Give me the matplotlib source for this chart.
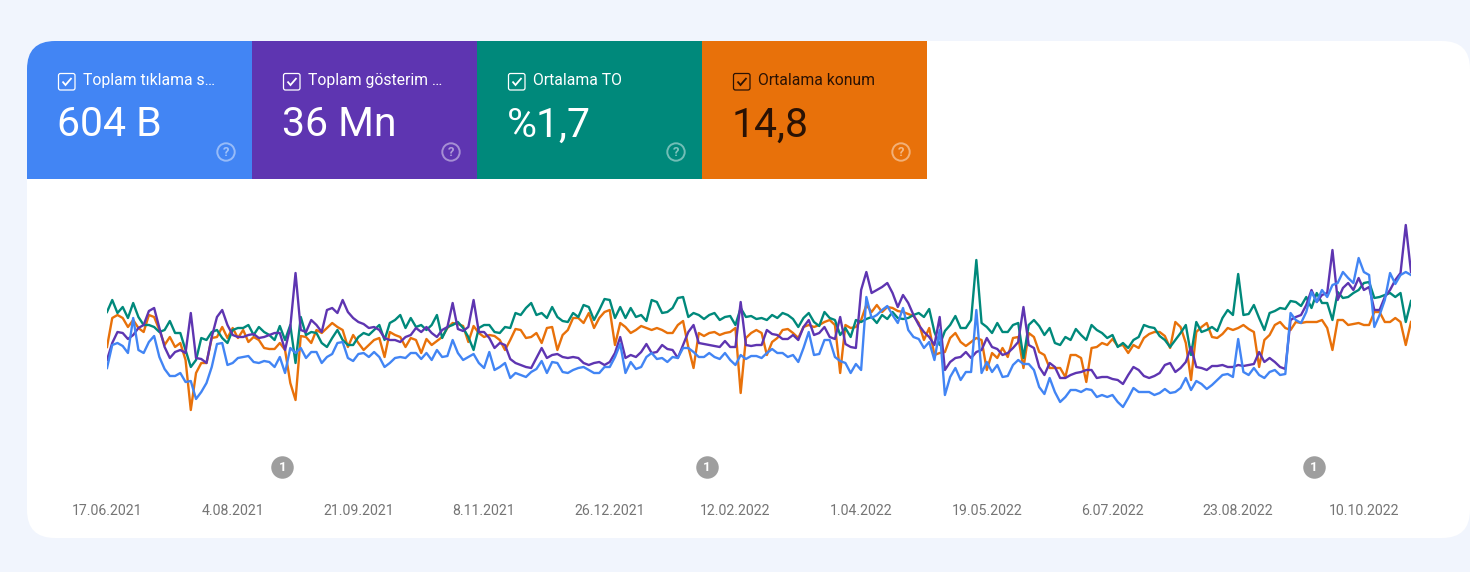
import matplotlib
matplotlib.use('Agg')
import matplotlib.pyplot as plt
import pandas as pd
from matplotlib.patches import Circle, FancyBboxPatch, Rectangle
from matplotlib.transforms import blended_transform_factory

plt.rcParams['font.family'] = ['Roboto', 'DejaVu Sans']

BG = '#f1f5fd'
BLUE = '#4285f4'
PURPLE = '#5e35b1'
GREEN = '#00897b'
ORANGE = '#e8710a'
DARK = '#2a1204'

# tile contents
tile_labels = ['Toplam tıklama s…', 'Toplam gösterim …', 'Ortalama TO', 'Ortalama konum']
tile_values = ['604 B', '36 Mn', '%1,7', '14,8']
tile_colors = [BLUE, PURPLE, GREEN, ORANGE]
tile_text = ['white', 'white', 'white', DARK]

tick_dates = ['2021-06-17', '2021-08-04', '2021-09-21', '2021-11-08', '2021-12-26', '2022-02-12',
              '2022-04-01', '2022-05-19', '2022-07-06', '2022-08-23', '2022-10-10']
tick_labels = ['17.06.2021', '4.08.2021', '21.09.2021', '8.11.2021', '26.12.2021', '12.02.2022',
               '1.04.2022', '19.05.2022', '6.07.2022', '23.08.2022', '10.10.2022']
note_dates = ['2021-08-23', '2022-02-01', '2022-09-21']

# relative heights, no y axis in the original; one reading every second day
clicks = [
    92, 115, 117, 114, 107, 142, 110, 107, 118, 124, 103, 91, 84, 84, 87, 78, 79, 61, 68, 77,
    93, 116, 117, 95, 97, 102, 103, 104, 98, 97, 99, 98, 93, 103, 87, 112, 107, 112, 102, 108,
    108, 97, 103, 106, 117, 118, 102, 99, 106, 107, 103, 108, 103, 93, 97, 102, 103, 102, 107, 107,
    101, 107, 100, 110, 103, 104, 120, 107, 100, 103, 106, 97, 92, 108, 90, 93, 97, 82, 87, 85,
    83, 88, 91, 99, 87, 98, 97, 88, 87, 90, 92, 93, 90, 87, 87, 93, 93, 103, 116, 87,
    98, 91, 93, 103, 107, 101, 102, 98, 103, 102, 112, 112, 108, 103, 103, 107, 103, 101, 107, 100,
    95, 105, 101, 104, 104, 102, 107, 111, 107, 107, 103, 105, 98, 112, 128, 105, 106, 120, 120, 103,
    99, 97, 87, 96, 90, 163, 142, 145, 150, 154, 145, 137, 152, 130, 123, 121, 112, 118, 100, 130,
    65, 83, 92, 80, 88, 88, 150, 87, 98, 88, 95, 83, 84, 95, 100, 96, 96, 90, 73, 66,
    82, 68, 58, 63, 70, 70, 68, 71, 70, 63, 65, 63, 65, 58, 53, 62, 72, 68, 68, 68,
    65, 67, 71, 67, 68, 72, 82, 70, 79, 76, 71, 75, 80, 85, 86, 83, 121, 88, 85, 92,
    85, 82, 88, 90, 85, 86, 147, 140, 137, 148, 168, 158, 170, 163, 175, 177, 188, 182, 177, 202,
    188, 185, 133, 145, 160, 187, 176, 185, 188, 185,
]
impressions = [
    100, 117, 128, 127, 121, 125, 132, 135, 149, 152, 132, 113, 102, 108, 110, 107, 147, 102, 101, 97,
    123, 143, 150, 135, 125, 123, 123, 125, 126, 122, 123, 125, 127, 127, 110, 133, 187, 130, 128, 140,
    135, 128, 150, 152, 147, 160, 148, 142, 138, 136, 132, 133, 130, 122, 120, 120, 118, 123, 125, 132,
    128, 133, 127, 123, 130, 133, 157, 131, 129, 133, 160, 128, 128, 122, 112, 117, 115, 101, 97, 95,
    93, 92, 102, 112, 102, 105, 106, 103, 102, 103, 102, 97, 95, 97, 98, 95, 98, 107, 123, 102,
    105, 103, 108, 116, 107, 108, 115, 111, 110, 102, 115, 128, 135, 117, 116, 115, 114, 113, 119, 113,
    113, 158, 115, 114, 115, 115, 130, 126, 125, 121, 121, 125, 120, 133, 140, 125, 127, 133, 123, 121,
    143, 116, 113, 112, 170, 188, 167, 170, 173, 177, 167, 153, 165, 157, 145, 135, 128, 123, 115, 143,
    90, 98, 102, 103, 108, 102, 108, 110, 122, 113, 111, 105, 107, 112, 118, 153, 115, 112, 93, 85,
    97, 93, 82, 82, 85, 87, 88, 90, 90, 82, 83, 83, 81, 80, 76, 85, 93, 90, 84, 82,
    84, 87, 95, 97, 88, 92, 98, 113, 93, 92, 90, 94, 94, 95, 93, 93, 95, 94, 95, 96,
    108, 98, 102, 98, 93, 91, 140, 143, 145, 155, 170, 158, 165, 167, 210, 160, 172, 177, 170, 182,
    170, 173, 150, 150, 163, 170, 180, 187, 235, 188,
]
ctr = [
    148, 160, 147, 153, 142, 157, 143, 135, 135, 133, 128, 130, 139, 127, 127, 110, 93, 100, 122, 120,
    128, 130, 122, 117, 130, 132, 132, 135, 125, 133, 128, 125, 120, 134, 120, 135, 97, 143, 125, 128,
    127, 117, 113, 122, 130, 120, 115, 115, 123, 127, 125, 130, 135, 120, 137, 140, 145, 132, 142, 133,
    135, 130, 135, 145, 122, 133, 135, 138, 132, 123, 110, 132, 135, 135, 128, 127, 133, 132, 147, 145,
    152, 157, 145, 147, 142, 153, 143, 139, 138, 147, 143, 155, 153, 140, 150, 161, 160, 142, 153, 142,
    152, 143, 145, 139, 160, 158, 147, 148, 152, 162, 163, 143, 147, 145, 141, 145, 147, 140, 143, 144,
    135, 152, 143, 144, 141, 142, 140, 145, 142, 147, 145, 141, 133, 142, 147, 138, 134, 148, 142, 140,
    125, 132, 123, 140, 138, 141, 143, 137, 145, 141, 148, 142, 141, 142, 145, 147, 143, 151, 128, 115,
    129, 135, 144, 132, 132, 140, 200, 137, 133, 127, 137, 128, 128, 135, 137, 102, 135, 140, 134, 125,
    132, 117, 115, 123, 120, 131, 125, 120, 135, 130, 127, 122, 125, 113, 117, 112, 120, 123, 135, 133,
    132, 124, 120, 113, 120, 127, 135, 105, 138, 128, 130, 133, 129, 142, 150, 145, 186, 145, 146, 155,
    142, 130, 147, 149, 152, 151, 159, 158, 154, 163, 152, 167, 157, 157, 140, 168, 162, 163, 167, 170,
    177, 178, 162, 163, 165, 167, 163, 167, 138, 159,
]
position = [
    113, 142, 145, 142, 133, 140, 132, 128, 145, 143, 130, 115, 123, 113, 117, 100, 50, 87, 97, 97,
    122, 123, 133, 122, 132, 122, 130, 118, 123, 120, 112, 111, 111, 117, 110, 77, 60, 124, 123, 117,
    130, 127, 132, 137, 133, 130, 113, 125, 117, 110, 115, 120, 122, 103, 128, 125, 123, 113, 122, 120,
    107, 121, 115, 119, 123, 132, 137, 136, 134, 118, 134, 127, 123, 125, 124, 120, 110, 120, 131, 130,
    122, 123, 127, 117, 132, 133, 110, 125, 130, 142, 142, 137, 147, 132, 142, 148, 150, 115, 137, 133,
    127, 130, 134, 132, 130, 132, 130, 127, 127, 135, 139, 113, 92, 127, 124, 127, 128, 125, 127, 128,
    132, 67, 122, 127, 130, 127, 105, 118, 122, 130, 131, 127, 122, 133, 135, 133, 135, 138, 140, 135,
    87, 135, 132, 133, 140, 155, 148, 155, 148, 153, 152, 149, 148, 146, 144, 137, 120, 132, 105, 107,
    108, 122, 127, 118, 114, 118, 122, 120, 90, 107, 102, 112, 103, 122, 123, 92, 127, 123, 108, 105,
    92, 92, 92, 83, 105, 105, 102, 78, 112, 113, 117, 115, 121, 114, 115, 107, 115, 112, 122, 126,
    128, 128, 124, 112, 138, 133, 117, 80, 128, 133, 137, 123, 122, 126, 132, 130, 132, 135, 131, 128,
    93, 120, 125, 135, 138, 132, 130, 138, 137, 138, 138, 138, 140, 132, 110, 140, 140, 135, 136, 137,
    135, 135, 148, 148, 138, 138, 142, 138, 115, 138,
]

W, H = 1470, 572
fig = plt.figure(figsize=(W / 100, H / 100), dpi=100, facecolor=BG)

# page layer in pixel coordinates
page = fig.add_axes([0, 0, 1, 1])
page.set_xlim(0, W)
page.set_ylim(H, 0)
page.axis('off')

card = FancyBboxPatch((27 + 28, 41 + 28), W - 27 - 56, 497 - 56, boxstyle='round,pad=28,rounding_size=28',
                      fc='white', ec='none')
page.add_patch(card)


def draw_tile(left, label, value, color, ink):
    tile = Rectangle((left, 41), 225, 138, fc=color, ec='none')
    page.add_patch(tile)
    tile.set_clip_path(card)
    page.add_patch(FancyBboxPatch((left + 31.5, 73.5), 16.5, 16.5, boxstyle='round,pad=0,rounding_size=2',
                                  fc='none', ec=ink, lw=0.9))
    page.plot([left + 35.5, left + 38.5, left + 44.5], [81.5, 85, 78], color=ink, lw=1.3,
              solid_capstyle='butt', solid_joinstyle='miter')
    page.text(left + 56, 80.5, label, color=ink, fontsize=11.3, va='center', ha='left')
    page.text(left + 30, 125, value, color=ink, fontsize=29.5, va='center', ha='left')
    # help icon stays pale on every tile
    page.add_patch(Circle((left + 199, 152), 8.7, fc='none', ec='white', lw=1.4, alpha=0.45))
    page.text(left + 199, 152.5, '?', color='white', alpha=0.5, fontsize=9.5, fontweight='bold',
              ha='center', va='center')


for n in range(4):
    draw_tile(27 + 225 * n, tile_labels[n], tile_values[n], tile_colors[n], tile_text[n])

# the chart itself
dates = pd.date_range('2021-06-17', periods=len(clicks), freq='2D')
ax = fig.add_axes([107 / W, 1 - 450 / H, (1411 - 107) / W, 240 / H])
ax.patch.set_alpha(0)
for side in ax.spines.values():
    side.set_visible(False)

ax.plot(dates, position, color=ORANGE, lw=1.7)
ax.plot(dates, ctr, color=GREEN, lw=1.7)
ax.plot(dates, impressions, color=PURPLE, lw=1.7)
ax.plot(dates, clicks, color=BLUE, lw=1.7)

ax.set_xlim(dates[0], dates[-1])
ax.set_ylim(10, 250)
ax.set_yticks([])
ax.set_xticks(pd.to_datetime(tick_dates))
ax.set_xticklabels(tick_labels, color='#757575', fontsize=10.2)
ax.tick_params(axis='x', length=0, pad=39)

# annotation badges sit below the lines
trans = blended_transform_factory(ax.transData, fig.transFigure)
for d in pd.to_datetime(note_dates):
    ax.plot([d], [1 - 467 / H], 'o', ms=16.2, color='#9e9e9e', mec='none', transform=trans, clip_on=False)
    ax.text(d, 1 - 467.5 / H, '1', color='white', fontsize=9.5, fontweight='bold', ha='center', va='center',
            transform=trans)

fig.savefig('out.png', dpi=100, facecolor=fig.get_facecolor())
